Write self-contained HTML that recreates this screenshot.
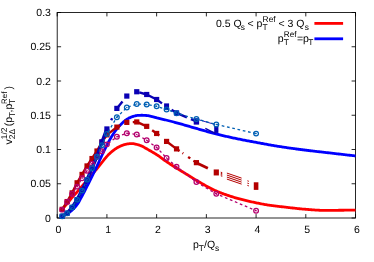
<!DOCTYPE html>
<html><head><meta charset="utf-8"><title>plot</title>
<style>html,body{margin:0;padding:0;background:#fff;}body{width:374px;height:262px;overflow:hidden;position:relative;font-family:"Liberation Sans",sans-serif;}</style></head>
<body>
<svg width="374" height="262" viewBox="0 0 374 262" style="position:absolute;left:0;top:0">
<rect x="0" y="0" width="374" height="262" fill="#fff"/>
<defs><filter id="idf" x="0" y="0" width="374" height="262" filterUnits="userSpaceOnUse" color-interpolation-filters="sRGB"><feColorMatrix type="matrix" values="1 0 0 0 0  0 1 0 0 0  0 0 1 0 0  0 0 0 1 0"/></filter></defs>
<g stroke="#000" stroke-width="0.85" fill="none">
<rect x="57.2" y="12.5" width="298.30" height="205.50"/>
<path d="M57.20,218.0 v-3.9 M57.20,12.5 v3.9"/>
<path d="M106.92,218.0 v-3.9 M106.92,12.5 v3.9"/>
<path d="M156.64,218.0 v-3.9 M156.64,12.5 v3.9"/>
<path d="M206.36,218.0 v-3.9 M206.36,12.5 v3.9"/>
<path d="M256.08,218.0 v-3.9 M256.08,12.5 v3.9"/>
<path d="M305.80,218.0 v-3.9 M305.80,12.5 v3.9"/>
<path d="M355.52,218.0 v-3.9 M355.52,12.5 v3.9"/>
<path d="M57.2,218.00 h3.9 M355.5,218.00 h-3.9"/>
<path d="M57.2,183.75 h3.9 M355.5,183.75 h-3.9"/>
<path d="M57.2,149.50 h3.9 M355.5,149.50 h-3.9"/>
<path d="M57.2,115.25 h3.9 M355.5,115.25 h-3.9"/>
<path d="M57.2,81.00 h3.9 M355.5,81.00 h-3.9"/>
<path d="M57.2,46.75 h3.9 M355.5,46.75 h-3.9"/>
<path d="M57.2,12.50 h3.9 M355.5,12.50 h-3.9"/>
</g>
<path d="M61.67,210.05 L62.66,208.85 L63.64,207.70 L64.62,206.56 L65.61,205.43 L66.59,204.28 L67.57,203.10 L68.55,201.87 L69.54,200.63 L70.52,199.39 L71.50,198.18 L72.49,197.02 L73.47,195.92 L74.45,194.85 L75.43,193.79 L76.42,192.72 L77.40,191.62 L78.38,190.48 L79.36,189.33 L80.35,188.17 L81.33,187.01 L82.31,185.85 L83.30,184.70 L84.28,183.55 L85.26,182.40 L86.24,181.25 L87.23,180.10 L88.21,178.95 L89.19,177.80 L90.17,176.64 L91.16,175.49 L92.14,174.34 L93.12,173.20 L94.11,172.06 L95.09,170.91 L96.07,169.76 L97.05,168.59 L98.04,167.39 L99.02,166.17 L100.00,164.94 L100.99,163.71 L101.97,162.49 L102.95,161.25 L103.93,159.98 L104.92,158.72 L105.90,157.52 L106.88,156.39 L107.86,155.34 L108.85,154.34 L109.83,153.38 L110.81,152.48 L111.80,151.63 L112.78,150.84 L113.76,150.08 L114.74,149.37 L115.73,148.70 L116.71,148.08 L117.69,147.52 L118.67,146.98 L119.66,146.48 L120.64,146.02 L121.62,145.61 L122.61,145.24 L123.59,144.87 L124.57,144.54 L125.55,144.26 L126.54,144.06 L127.52,143.93 L128.50,143.81 L129.49,143.72 L130.47,143.65 L131.45,143.61 L132.43,143.63 L133.42,143.72 L134.40,143.88 L135.38,144.07 L136.36,144.28 L137.35,144.50 L138.33,144.78 L139.31,145.11 L140.30,145.49 L141.28,145.89 L142.26,146.32 L143.24,146.81 L144.23,147.37 L145.21,147.95 L146.19,148.53 L147.17,149.09 L148.16,149.64 L149.14,150.19 L150.12,150.75 L151.11,151.31 L152.09,151.88 L153.07,152.45 L154.05,153.03 L155.04,153.63 L156.02,154.24 L157.00,154.87 L157.99,155.53 L158.97,156.21 L159.95,156.91 L160.93,157.62 L161.92,158.34 L162.90,159.07 L163.88,159.79 L164.86,160.49 L165.85,161.19 L166.83,161.86 L167.81,162.52 L168.80,163.17 L169.78,163.82 L170.76,164.46 L171.74,165.09 L172.73,165.72 L173.71,166.35 L174.69,166.97 L175.67,167.60 L176.66,168.21 L177.64,168.83 L178.62,169.43 L179.61,170.04 L180.59,170.63 L181.57,171.23 L182.55,171.82 L183.54,172.42 L184.52,173.01 L185.50,173.61 L186.49,174.21 L187.47,174.81 L188.45,175.42 L189.43,176.04 L190.42,176.65 L191.40,177.27 L192.38,177.89 L193.36,178.49 L194.35,179.10 L195.33,179.69 L196.31,180.27 L197.30,180.84 L198.28,181.41 L199.26,181.98 L200.24,182.55 L201.23,183.12 L202.21,183.69 L203.19,184.26 L204.17,184.82 L205.16,185.38 L206.14,185.93 L207.12,186.47 L208.11,187.01 L209.09,187.53 L210.07,188.05 L211.05,188.55 L212.04,189.04 L213.02,189.52 L214.00,189.99 L214.99,190.44 L215.97,190.87 L216.95,191.28 L217.93,191.69 L218.92,192.09 L219.90,192.49 L220.88,192.87 L221.86,193.25 L222.85,193.62 L223.83,193.98 L224.81,194.34 L225.80,194.69 L226.78,195.03 L227.76,195.37 L228.74,195.70 L229.73,196.02 L230.71,196.34 L231.69,196.65 L232.68,196.96 L233.66,197.25 L234.64,197.55 L235.62,197.83 L236.61,198.12 L237.59,198.39 L238.57,198.66 L239.55,198.93 L240.54,199.19 L241.52,199.45 L242.50,199.70 L243.49,199.95 L244.47,200.19 L245.45,200.43 L246.43,200.67 L247.42,200.90 L248.40,201.13 L249.38,201.35 L250.36,201.57 L251.35,201.79 L252.33,202.00 L253.31,202.21 L254.30,202.42 L255.28,202.63 L256.26,202.83 L257.24,203.03 L258.23,203.23 L259.21,203.43 L260.19,203.62 L261.18,203.81 L262.16,204.00 L263.14,204.19 L264.12,204.37 L265.11,204.54 L266.09,204.71 L267.07,204.88 L268.05,205.03 L269.04,205.19 L270.02,205.33 L271.00,205.47 L271.99,205.60 L272.97,205.72 L273.95,205.85 L274.93,205.96 L275.92,206.08 L276.90,206.19 L277.88,206.30 L278.86,206.41 L279.85,206.52 L280.83,206.63 L281.81,206.74 L282.80,206.85 L283.78,206.97 L284.76,207.08 L285.74,207.20 L286.73,207.31 L287.71,207.43 L288.69,207.54 L289.68,207.66 L290.66,207.78 L291.64,207.89 L292.62,208.00 L293.61,208.11 L294.59,208.22 L295.57,208.33 L296.55,208.44 L297.54,208.54 L298.52,208.65 L299.50,208.74 L300.49,208.84 L301.47,208.93 L302.45,209.02 L303.43,209.11 L304.42,209.19 L305.40,209.27 L306.38,209.34 L307.36,209.42 L308.35,209.50 L309.33,209.58 L310.31,209.66 L311.30,209.74 L312.28,209.82 L313.26,209.89 L314.24,209.97 L315.23,210.04 L316.21,210.10 L317.19,210.17 L318.18,210.22 L319.16,210.27 L320.14,210.31 L321.12,210.35 L322.11,210.37 L323.09,210.39 L324.07,210.40 L325.05,210.40 L326.04,210.39 L327.02,210.39 L328.00,210.38 L328.99,210.38 L329.97,210.37 L330.95,210.36 L331.93,210.35 L332.92,210.34 L333.90,210.33 L334.88,210.31 L335.86,210.30 L336.85,210.29 L337.83,210.28 L338.81,210.27 L339.80,210.26 L340.78,210.25 L341.76,210.25 L342.74,210.24 L343.73,210.23 L344.71,210.22 L345.69,210.21 L346.68,210.20 L347.66,210.19 L348.64,210.18 L349.62,210.18 L350.61,210.17 L351.59,210.16 L352.57,210.15 L353.55,210.14 L354.54,210.13 L355.52,210.12" stroke="#ff0000" stroke-width="2.8" fill="none" stroke-linejoin="round"/>
<path d="M61.67,216.84 L62.66,216.40 L63.64,215.92 L64.62,215.39 L65.61,214.83 L66.59,214.24 L67.57,213.61 L68.55,212.95 L69.54,212.24 L70.52,211.48 L71.50,210.66 L72.49,209.79 L73.47,208.85 L74.45,207.83 L75.43,206.73 L76.42,205.52 L77.40,204.21 L78.38,202.68 L79.36,200.97 L80.35,199.16 L81.33,197.30 L82.31,195.48 L83.30,193.63 L84.28,191.75 L85.26,189.83 L86.24,187.90 L87.23,185.97 L88.21,184.03 L89.19,182.08 L90.17,180.11 L91.16,178.14 L92.14,176.14 L93.12,174.14 L94.11,172.13 L95.09,170.10 L96.07,168.05 L97.05,165.98 L98.04,163.86 L99.02,161.71 L100.00,159.54 L100.99,157.39 L101.97,155.28 L102.95,153.19 L103.93,151.11 L104.92,149.06 L105.90,147.05 L106.88,145.12 L107.86,143.25 L108.85,141.42 L109.83,139.64 L110.81,137.93 L111.80,136.30 L112.78,134.74 L113.76,133.24 L114.74,131.80 L115.73,130.43 L116.71,129.14 L117.69,127.93 L118.67,126.78 L119.66,125.68 L120.64,124.65 L121.62,123.67 L122.61,122.75 L123.59,121.85 L124.57,121.00 L125.55,120.22 L126.54,119.53 L127.52,118.93 L128.50,118.37 L129.49,117.87 L130.47,117.41 L131.45,117.01 L132.43,116.66 L133.42,116.32 L134.40,116.01 L135.38,115.75 L136.36,115.57 L137.35,115.47 L138.33,115.39 L139.31,115.33 L140.30,115.28 L141.28,115.25 L142.26,115.25 L143.24,115.28 L144.23,115.34 L145.21,115.40 L146.19,115.48 L147.17,115.57 L148.16,115.70 L149.14,115.88 L150.12,116.08 L151.11,116.29 L152.09,116.51 L153.07,116.78 L154.05,117.08 L155.04,117.39 L156.02,117.68 L157.00,117.95 L157.99,118.19 L158.97,118.43 L159.95,118.66 L160.93,118.88 L161.92,119.10 L162.90,119.32 L163.88,119.55 L164.86,119.77 L165.85,120.00 L166.83,120.24 L167.81,120.49 L168.80,120.74 L169.78,120.99 L170.76,121.24 L171.74,121.50 L172.73,121.76 L173.71,122.02 L174.69,122.29 L175.67,122.55 L176.66,122.82 L177.64,123.09 L178.62,123.36 L179.61,123.64 L180.59,123.91 L181.57,124.19 L182.55,124.47 L183.54,124.75 L184.52,125.04 L185.50,125.32 L186.49,125.61 L187.47,125.89 L188.45,126.18 L189.43,126.46 L190.42,126.75 L191.40,127.03 L192.38,127.32 L193.36,127.60 L194.35,127.88 L195.33,128.16 L196.31,128.44 L197.30,128.72 L198.28,129.00 L199.26,129.28 L200.24,129.56 L201.23,129.85 L202.21,130.13 L203.19,130.41 L204.17,130.70 L205.16,130.98 L206.14,131.26 L207.12,131.54 L208.11,131.82 L209.09,132.10 L210.07,132.37 L211.05,132.64 L212.04,132.91 L213.02,133.17 L214.00,133.43 L214.99,133.68 L215.97,133.93 L216.95,134.18 L217.93,134.42 L218.92,134.66 L219.90,134.90 L220.88,135.14 L221.86,135.37 L222.85,135.60 L223.83,135.83 L224.81,136.06 L225.80,136.28 L226.78,136.50 L227.76,136.72 L228.74,136.94 L229.73,137.16 L230.71,137.37 L231.69,137.59 L232.68,137.80 L233.66,138.01 L234.64,138.21 L235.62,138.42 L236.61,138.63 L237.59,138.83 L238.57,139.03 L239.55,139.23 L240.54,139.43 L241.52,139.62 L242.50,139.82 L243.49,140.01 L244.47,140.20 L245.45,140.39 L246.43,140.57 L247.42,140.76 L248.40,140.95 L249.38,141.13 L250.36,141.32 L251.35,141.50 L252.33,141.68 L253.31,141.86 L254.30,142.05 L255.28,142.23 L256.26,142.41 L257.24,142.59 L258.23,142.77 L259.21,142.95 L260.19,143.14 L261.18,143.32 L262.16,143.50 L263.14,143.68 L264.12,143.86 L265.11,144.04 L266.09,144.22 L267.07,144.40 L268.05,144.58 L269.04,144.76 L270.02,144.93 L271.00,145.10 L271.99,145.28 L272.97,145.45 L273.95,145.62 L274.93,145.78 L275.92,145.95 L276.90,146.11 L277.88,146.27 L278.86,146.43 L279.85,146.59 L280.83,146.74 L281.81,146.89 L282.80,147.04 L283.78,147.19 L284.76,147.34 L285.74,147.48 L286.73,147.63 L287.71,147.77 L288.69,147.91 L289.68,148.05 L290.66,148.19 L291.64,148.32 L292.62,148.46 L293.61,148.59 L294.59,148.73 L295.57,148.86 L296.55,148.99 L297.54,149.12 L298.52,149.25 L299.50,149.38 L300.49,149.51 L301.47,149.63 L302.45,149.76 L303.43,149.89 L304.42,150.01 L305.40,150.13 L306.38,150.26 L307.36,150.38 L308.35,150.50 L309.33,150.62 L310.31,150.74 L311.30,150.85 L312.28,150.97 L313.26,151.09 L314.24,151.20 L315.23,151.31 L316.21,151.43 L317.19,151.54 L318.18,151.65 L319.16,151.76 L320.14,151.87 L321.12,151.98 L322.11,152.09 L323.09,152.20 L324.07,152.31 L325.05,152.42 L326.04,152.53 L327.02,152.65 L328.00,152.76 L328.99,152.87 L329.97,152.98 L330.95,153.10 L331.93,153.21 L332.92,153.32 L333.90,153.44 L334.88,153.55 L335.86,153.66 L336.85,153.78 L337.83,153.89 L338.81,154.01 L339.80,154.12 L340.78,154.23 L341.76,154.35 L342.74,154.46 L343.73,154.57 L344.71,154.69 L345.69,154.80 L346.68,154.92 L347.66,155.03 L348.64,155.14 L349.62,155.26 L350.61,155.37 L351.59,155.48 L352.57,155.60 L353.55,155.71 L354.54,155.83 L355.52,155.94" stroke="#0000ff" stroke-width="2.8" fill="none" stroke-linejoin="round"/>
<path d="M62.17,209.37 L67.14,201.56 L72.12,192.86 L77.09,182.79 L82.06,174.43 L87.03,165.94 L92.00,158.54 L96.98,151.01 L101.95,142.03 L106.92,134.84" stroke="#b40000" stroke-width="2.4" fill="none"/>
<path d="M106.92,134.84 L116.86,127.10" stroke="#b40000" stroke-width="2.4" fill="none"/>
<path d="M116.86,127.10 L120.10,125.56" stroke="#b40000" stroke-width="2.4" fill="none"/>
<path d="M132.77,122.13 L136.75,121.96" stroke="#b40000" stroke-width="2.4" fill="none"/>
<path d="M136.75,121.96 L146.70,126.35" stroke="#b40000" stroke-width="2.4" fill="none"/>
<path d="M152.17,130.27 L156.64,133.47" stroke="#b40000" stroke-width="2.4" fill="none"/>
<path d="M156.64,133.47 L159.23,135.54" stroke="#b40000" stroke-width="2.4" fill="none"/>
<path d="M166.58,141.42 L176.53,148.88" stroke="#b40000" stroke-width="2.4" fill="none"/>
<path d="M176.53,148.88 L179.56,150.98" stroke="#b40000" stroke-width="2.4" fill="none"/>
<path d="M182.49,153.01 L183.24,153.53" stroke="#b40000" stroke-width="2.4" fill="none"/>
<path d="M188.11,156.90 L190.25,158.38" stroke="#b40000" stroke-width="2.4" fill="none"/>
<path d="M193.48,160.62 L196.42,162.65" stroke="#b40000" stroke-width="2.4" fill="none"/>
<path d="M196.42,162.65 L207.85,168.28" stroke="#b40000" stroke-width="2.8" fill="none"/>
<path d="M226.89,173.08 L241.61,178.12" stroke="#b40000" stroke-width="1.0" fill="none"/>
<path d="M220.78,172.18 L222.27,172.69" stroke="#b40000" stroke-width="1.0" fill="none"/>
<path d="M226.89,175.08 L241.61,180.12" stroke="#b40000" stroke-width="1.0" fill="none"/>
<path d="M220.78,173.38 L222.27,173.89" stroke="#b40000" stroke-width="1.0" fill="none"/>
<path d="M226.89,177.08 L241.61,182.12" stroke="#b40000" stroke-width="1.0" fill="none"/>
<path d="M220.78,174.58 L222.27,175.09" stroke="#b40000" stroke-width="1.0" fill="none"/>
<path d="M226.89,179.08 L241.61,184.12" stroke="#b40000" stroke-width="1.0" fill="none"/>
<path d="M220.78,175.78 L222.27,176.29" stroke="#b40000" stroke-width="1.0" fill="none"/>
<path d="M247.38,180.80 L248.87,181.31" stroke="#b40000" stroke-width="1.0" fill="none"/>
<path d="M247.38,183.10 L248.87,183.61" stroke="#b40000" stroke-width="1.0" fill="none"/>
<path d="M247.38,185.40 L248.87,185.91" stroke="#b40000" stroke-width="1.0" fill="none"/>
<rect x="59.57" y="206.77" width="5.2" height="5.2" fill="#b40000"/>
<rect x="64.54" y="198.96" width="5.2" height="5.2" fill="#b40000"/>
<rect x="69.52" y="190.26" width="5.2" height="5.2" fill="#b40000"/>
<rect x="74.49" y="180.19" width="5.2" height="5.2" fill="#b40000"/>
<rect x="79.46" y="171.83" width="5.2" height="5.2" fill="#b40000"/>
<rect x="84.43" y="163.34" width="5.2" height="5.2" fill="#b40000"/>
<rect x="89.40" y="155.94" width="5.2" height="5.2" fill="#b40000"/>
<rect x="94.38" y="148.41" width="5.2" height="5.2" fill="#b40000"/>
<rect x="99.35" y="139.43" width="5.2" height="5.2" fill="#b40000"/>
<rect x="104.32" y="132.24" width="5.2" height="5.2" fill="#b40000"/>
<rect x="114.26" y="124.50" width="5.2" height="5.2" fill="#b40000"/>
<rect x="124.21" y="119.77" width="5.2" height="5.2" fill="#b40000"/>
<rect x="134.15" y="119.36" width="5.2" height="5.2" fill="#b40000"/>
<rect x="144.10" y="123.75" width="5.2" height="5.2" fill="#b40000"/>
<rect x="154.04" y="130.87" width="5.2" height="5.2" fill="#b40000"/>
<rect x="163.98" y="138.82" width="5.2" height="5.2" fill="#b40000"/>
<rect x="173.93" y="146.28" width="5.2" height="5.2" fill="#b40000"/>
<rect x="193.82" y="160.05" width="5.2" height="5.2" fill="#b40000"/>
<rect x="213.70" y="169.45" width="5.2" height="6.0" fill="#b40000"/>
<rect x="253.78" y="182.28" width="4.6" height="7.6" fill="#b40000"/>
<path d="M62.17,216.29 L67.14,213.21 L72.12,207.38 L77.09,199.64 L82.06,190.26 L87.03,179.98 L92.00,168.00 L96.98,156.35 L101.95,141.97 L106.92,128.95" stroke="#0a00b4" stroke-width="3.4" fill="none"/>
<path d="M111.15,120.22 L112.14,118.16" stroke="#0a00b4" stroke-width="2.4" fill="none"/>
<path d="M116.86,108.40 L122.48,101.43" stroke="#0a00b4" stroke-width="2.4" fill="none"/>
<path d="M139.24,92.44 L146.70,94.49" stroke="#0a00b4" stroke-width="2.4" fill="none"/>
<path d="M146.70,94.49 L156.64,99.50 L162.01,103.38" stroke="#0a00b4" stroke-width="2.4" fill="none"/>
<path d="M171.56,109.80 L176.53,112.92 L186.87,117.34" stroke="#0a00b4" stroke-width="2.4" fill="none"/>
<path d="M190.95,119.08 L196.42,121.42" stroke="#0a00b4" stroke-width="2.4" fill="none"/>
<path d="M198.9,119.8 L215,124.5" stroke="#0a00b4" stroke-width="0.9" fill="none"/>
<path d="M205.3,128.4 L215.7,133.7" stroke="#0a00b4" stroke-width="1.4" fill="none"/>
<rect x="59.57" y="213.69" width="5.2" height="5.2" fill="#0a00b4"/>
<rect x="64.54" y="210.61" width="5.2" height="5.2" fill="#0a00b4"/>
<rect x="69.52" y="204.78" width="5.2" height="5.2" fill="#0a00b4"/>
<rect x="74.49" y="197.04" width="5.2" height="5.2" fill="#0a00b4"/>
<rect x="79.46" y="187.66" width="5.2" height="5.2" fill="#0a00b4"/>
<rect x="84.43" y="177.38" width="5.2" height="5.2" fill="#0a00b4"/>
<rect x="89.40" y="165.40" width="5.2" height="5.2" fill="#0a00b4"/>
<rect x="94.38" y="153.75" width="5.2" height="5.2" fill="#0a00b4"/>
<rect x="99.35" y="139.37" width="5.2" height="5.2" fill="#0a00b4"/>
<rect x="104.32" y="126.35" width="5.2" height="5.2" fill="#0a00b4"/>
<rect x="114.26" y="105.80" width="5.2" height="5.2" fill="#0a00b4"/>
<rect x="124.21" y="93.47" width="5.2" height="5.2" fill="#0a00b4"/>
<rect x="134.15" y="89.15" width="5.2" height="5.2" fill="#0a00b4"/>
<rect x="144.10" y="91.89" width="5.2" height="5.2" fill="#0a00b4"/>
<rect x="154.04" y="96.90" width="5.2" height="5.2" fill="#0a00b4"/>
<rect x="164.08" y="103.39" width="5.0" height="6.6" fill="#0a00b4"/>
<rect x="173.93" y="110.32" width="5.2" height="5.2" fill="#0a00b4"/>
<rect x="193.72" y="118.22" width="5.4" height="6.4" fill="#0a00b4"/>
<rect x="214.20" y="126.33" width="4.2" height="6.6" fill="#0a00b4"/>
<path d="M62.17,209.64 L67.14,201.90 L72.12,194.03 L77.09,186.63 L82.06,178.27 L87.03,170.74 L92.00,163.68 L96.98,156.83 L101.95,151.21 L106.92,144.36 L116.86,136.83 L126.81,133.20 L136.75,134.50 L146.70,140.32 L156.64,147.44 L166.58,158.06 L176.53,166.62 L196.42,182.04 L216.30,193.82 L256.08,210.67" stroke="#b4006e" stroke-width="1.3" fill="none" stroke-dasharray="2.7 2.7"/>
<circle cx="62.17" cy="209.64" r="2.35" fill="none" stroke="#b4006e" stroke-width="1.25"/><circle cx="62.17" cy="209.64" r="0.75" fill="#b4006e"/>
<circle cx="67.14" cy="201.90" r="2.35" fill="none" stroke="#b4006e" stroke-width="1.25"/><circle cx="67.14" cy="201.90" r="0.75" fill="#b4006e"/>
<circle cx="72.12" cy="194.03" r="2.35" fill="none" stroke="#b4006e" stroke-width="1.25"/><circle cx="72.12" cy="194.03" r="0.75" fill="#b4006e"/>
<circle cx="77.09" cy="186.63" r="2.35" fill="none" stroke="#b4006e" stroke-width="1.25"/><circle cx="77.09" cy="186.63" r="0.75" fill="#b4006e"/>
<circle cx="82.06" cy="178.27" r="2.35" fill="none" stroke="#b4006e" stroke-width="1.25"/><circle cx="82.06" cy="178.27" r="0.75" fill="#b4006e"/>
<circle cx="87.03" cy="170.74" r="2.35" fill="none" stroke="#b4006e" stroke-width="1.25"/><circle cx="87.03" cy="170.74" r="0.75" fill="#b4006e"/>
<circle cx="92.00" cy="163.68" r="2.35" fill="none" stroke="#b4006e" stroke-width="1.25"/><circle cx="92.00" cy="163.68" r="0.75" fill="#b4006e"/>
<circle cx="96.98" cy="156.83" r="2.35" fill="none" stroke="#b4006e" stroke-width="1.25"/><circle cx="96.98" cy="156.83" r="0.75" fill="#b4006e"/>
<circle cx="101.95" cy="151.21" r="2.35" fill="none" stroke="#b4006e" stroke-width="1.25"/><circle cx="101.95" cy="151.21" r="0.75" fill="#b4006e"/>
<circle cx="106.92" cy="144.36" r="2.35" fill="none" stroke="#b4006e" stroke-width="1.25"/><circle cx="106.92" cy="144.36" r="0.75" fill="#b4006e"/>
<circle cx="116.86" cy="136.83" r="2.35" fill="none" stroke="#b4006e" stroke-width="1.25"/><circle cx="116.86" cy="136.83" r="0.75" fill="#b4006e"/>
<circle cx="126.81" cy="133.20" r="2.35" fill="none" stroke="#b4006e" stroke-width="1.25"/><circle cx="126.81" cy="133.20" r="0.75" fill="#b4006e"/>
<circle cx="136.75" cy="134.50" r="2.35" fill="none" stroke="#b4006e" stroke-width="1.25"/><circle cx="136.75" cy="134.50" r="0.75" fill="#b4006e"/>
<circle cx="146.70" cy="140.32" r="2.35" fill="none" stroke="#b4006e" stroke-width="1.25"/><circle cx="146.70" cy="140.32" r="0.75" fill="#b4006e"/>
<circle cx="156.64" cy="147.44" r="2.35" fill="none" stroke="#b4006e" stroke-width="1.25"/><circle cx="156.64" cy="147.44" r="0.75" fill="#b4006e"/>
<circle cx="166.58" cy="158.06" r="2.35" fill="none" stroke="#b4006e" stroke-width="1.25"/><circle cx="166.58" cy="158.06" r="0.75" fill="#b4006e"/>
<circle cx="176.53" cy="166.62" r="2.35" fill="none" stroke="#b4006e" stroke-width="1.25"/><circle cx="176.53" cy="166.62" r="0.75" fill="#b4006e"/>
<circle cx="196.42" cy="182.04" r="2.35" fill="none" stroke="#b4006e" stroke-width="1.25"/><circle cx="196.42" cy="182.04" r="0.75" fill="#b4006e"/>
<circle cx="216.30" cy="193.82" r="2.35" fill="none" stroke="#b4006e" stroke-width="1.25"/><circle cx="216.30" cy="193.82" r="0.75" fill="#b4006e"/>
<circle cx="256.08" cy="210.67" r="2.35" fill="none" stroke="#b4006e" stroke-width="1.25"/><circle cx="256.08" cy="210.67" r="0.75" fill="#b4006e"/>
<path d="M62.17,216.29 L67.14,213.21 L72.12,207.38 L77.09,199.64 L82.06,190.60 L87.03,179.64 L92.00,168.20 L96.98,156.69 L101.95,145.25 L106.92,134.09 L116.86,117.17 L126.81,107.58 L136.75,103.95 L146.70,104.50 L156.64,106.34 L166.58,109.43 L176.53,113.20 L196.42,119.02 L216.30,124.43 L256.08,133.61" stroke="#0060b4" stroke-width="1.3" fill="none" stroke-dasharray="2.7 2.7"/>
<circle cx="62.17" cy="216.29" r="2.35" fill="none" stroke="#0060b4" stroke-width="1.25"/><circle cx="62.17" cy="216.29" r="0.75" fill="#0060b4"/>
<circle cx="67.14" cy="213.21" r="2.35" fill="none" stroke="#0060b4" stroke-width="1.25"/><circle cx="67.14" cy="213.21" r="0.75" fill="#0060b4"/>
<circle cx="72.12" cy="207.38" r="2.35" fill="none" stroke="#0060b4" stroke-width="1.25"/><circle cx="72.12" cy="207.38" r="0.75" fill="#0060b4"/>
<circle cx="77.09" cy="199.64" r="2.35" fill="none" stroke="#0060b4" stroke-width="1.25"/><circle cx="77.09" cy="199.64" r="0.75" fill="#0060b4"/>
<circle cx="82.06" cy="190.60" r="2.35" fill="none" stroke="#0060b4" stroke-width="1.25"/><circle cx="82.06" cy="190.60" r="0.75" fill="#0060b4"/>
<circle cx="87.03" cy="179.64" r="2.35" fill="none" stroke="#0060b4" stroke-width="1.25"/><circle cx="87.03" cy="179.64" r="0.75" fill="#0060b4"/>
<circle cx="92.00" cy="168.20" r="2.35" fill="none" stroke="#0060b4" stroke-width="1.25"/><circle cx="92.00" cy="168.20" r="0.75" fill="#0060b4"/>
<circle cx="96.98" cy="156.69" r="2.35" fill="none" stroke="#0060b4" stroke-width="1.25"/><circle cx="96.98" cy="156.69" r="0.75" fill="#0060b4"/>
<circle cx="101.95" cy="145.25" r="2.35" fill="none" stroke="#0060b4" stroke-width="1.25"/><circle cx="101.95" cy="145.25" r="0.75" fill="#0060b4"/>
<circle cx="106.92" cy="134.09" r="2.35" fill="none" stroke="#0060b4" stroke-width="1.25"/><circle cx="106.92" cy="134.09" r="0.75" fill="#0060b4"/>
<circle cx="116.86" cy="117.17" r="2.35" fill="none" stroke="#0060b4" stroke-width="1.25"/><circle cx="116.86" cy="117.17" r="0.75" fill="#0060b4"/>
<circle cx="126.81" cy="107.58" r="2.35" fill="none" stroke="#0060b4" stroke-width="1.25"/><circle cx="126.81" cy="107.58" r="0.75" fill="#0060b4"/>
<circle cx="136.75" cy="103.95" r="2.35" fill="none" stroke="#0060b4" stroke-width="1.25"/><circle cx="136.75" cy="103.95" r="0.75" fill="#0060b4"/>
<circle cx="146.70" cy="104.50" r="2.35" fill="none" stroke="#0060b4" stroke-width="1.25"/><circle cx="146.70" cy="104.50" r="0.75" fill="#0060b4"/>
<circle cx="156.64" cy="106.34" r="2.35" fill="none" stroke="#0060b4" stroke-width="1.25"/><circle cx="156.64" cy="106.34" r="0.75" fill="#0060b4"/>
<circle cx="166.58" cy="109.43" r="2.35" fill="none" stroke="#0060b4" stroke-width="1.25"/><circle cx="166.58" cy="109.43" r="0.75" fill="#0060b4"/>
<circle cx="176.53" cy="113.20" r="2.35" fill="none" stroke="#0060b4" stroke-width="1.25"/><circle cx="176.53" cy="113.20" r="0.75" fill="#0060b4"/>
<circle cx="196.42" cy="119.02" r="2.35" fill="none" stroke="#0060b4" stroke-width="1.25"/><circle cx="196.42" cy="119.02" r="0.75" fill="#0060b4"/>
<circle cx="216.30" cy="124.43" r="2.35" fill="none" stroke="#0060b4" stroke-width="1.25"/><circle cx="216.30" cy="124.43" r="0.75" fill="#0060b4"/>
<circle cx="256.08" cy="133.61" r="2.35" fill="none" stroke="#0060b4" stroke-width="1.25"/><circle cx="256.08" cy="133.61" r="0.75" fill="#0060b4"/>
<path d="M314.4,23.4 H343.1" stroke="#ff0000" stroke-width="2.8"/>
<path d="M314.4,38.8 H343.1" stroke="#0000ff" stroke-width="2.8"/>
<g fill="#000" stroke="none" font-family="Liberation Sans, sans-serif" style="text-rendering:geometricPrecision" filter="url(#idf)">
<text x="45.06" y="221.70" font-size="10.50">0</text>
<text x="30.46" y="187.45" font-size="10.50">0.05</text>
<text x="36.30" y="153.20" font-size="10.50">0.1</text>
<text x="30.46" y="118.95" font-size="10.50">0.15</text>
<text x="36.30" y="84.70" font-size="10.50">0.2</text>
<text x="30.46" y="50.45" font-size="10.50">0.25</text>
<text x="36.30" y="16.20" font-size="10.50">0.3</text>
<text x="55.58" y="232.70" font-size="10.50">0</text>
<text x="105.30" y="232.70" font-size="10.50">1</text>
<text x="155.02" y="232.70" font-size="10.50">2</text>
<text x="204.74" y="232.70" font-size="10.50">3</text>
<text x="254.46" y="232.70" font-size="10.50">4</text>
<text x="304.18" y="232.70" font-size="10.50">5</text>
<text x="353.90" y="232.70" font-size="10.50">6</text>
<text x="193.00" y="247.70" font-size="10.50">p</text>
<text x="198.84" y="250.70" font-size="8.40">T</text>
<text x="203.97" y="247.70" font-size="10.50">/Q</text>
<text x="215.06" y="250.70" font-size="8.40">s</text>
<g transform="translate(12.2,144.0) rotate(-90)">
<text x="-0.40" y="0.00" font-size="10.50">v</text>
<text x="4.80" y="3.00" font-size="8.40">2Δ</text>
<text x="4.80" y="-5.00" font-size="8.40">1/2</text>
<text x="17.80" y="0.00" font-size="10.50">(p</text>
<text x="26.70" y="3.00" font-size="8.40">T</text>
<text x="31.60" y="0.00" font-size="10.50">,p</text>
<text x="39.90" y="3.00" font-size="8.40">T</text>
<text x="40.10" y="-5.00" font-size="7.88">Ref</text>
<text x="54.60" y="0.00" font-size="10.50">)</text>
</g>
<text x="215.90" y="27.20" font-size="10.50">0.5 Q</text>
<text x="240.70" y="30.20" font-size="8.40">s</text>
<text x="247.50" y="27.20" font-size="10.50">&lt; p</text>
<text x="262.60" y="30.20" font-size="8.40">T</text>
<text x="262.60" y="22.20" font-size="8.40">Ref</text>
<text x="278.40" y="27.20" font-size="10.50">&lt; 3 Q</text>
<text x="304.70" y="30.20" font-size="8.40">s</text>
<text x="277.80" y="42.40" font-size="10.50">p</text>
<text x="283.80" y="45.40" font-size="8.40">T</text>
<text x="283.80" y="37.40" font-size="8.19">Ref</text>
<text x="296.90" y="42.40" font-size="10.50">=p</text>
<text x="308.30" y="45.40" font-size="8.40">T</text>
</g>
</svg>
</body></html>
